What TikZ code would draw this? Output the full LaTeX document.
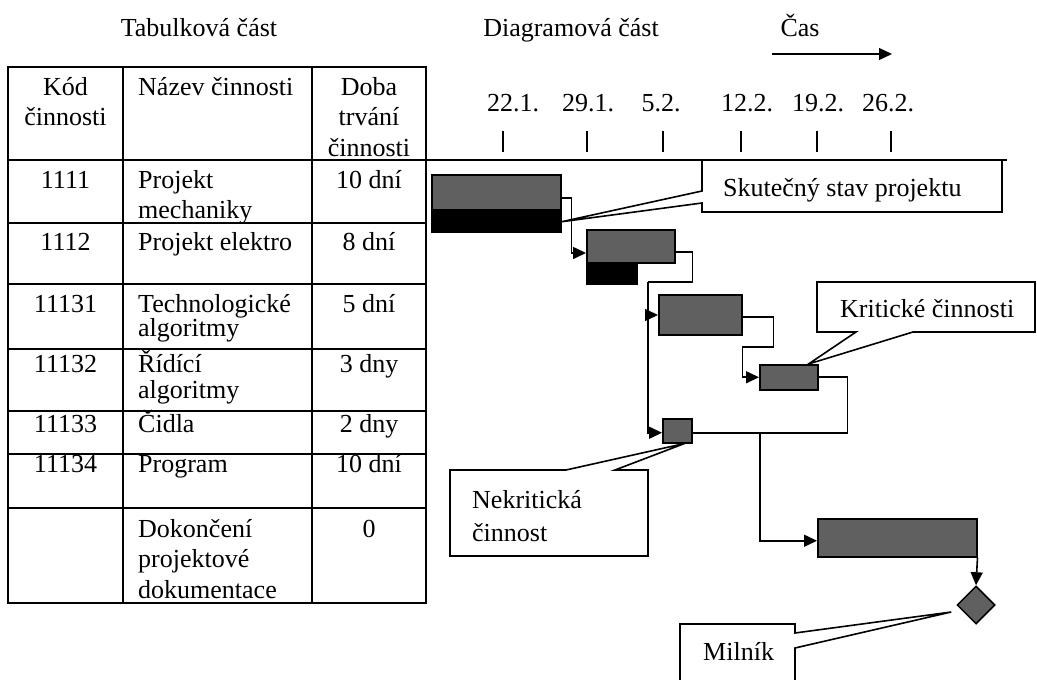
\documentclass[tikz,border=0pt]{standalone}
\usepackage{fontspec}
\setmainfont{Liberation Serif}
\usetikzlibrary{arrows.meta,shapes.geometric,calc}
\definecolor{barfill}{HTML}{606060}

% one table row: name prefix, baseline, code, activity, duration
\newcommand\tablerow[5]{%
  \node[cellc] (#1code) at (65.5,#2-24) {\rule{0pt}{24pt}#3};
  \node[celll] (#1name) at (138,#2-24) {\rule{0pt}{24pt}#4};
  \node[cellc] (#1dur)  at (369,#2-24) {\rule{0pt}{24pt}#5};
}

\begin{document}
\begin{tikzpicture}[x=1pt,y=-1pt,
  every node/.style={font=\fontsize{26}{30.5}\selectfont, inner sep=0pt},
  cellc/.style={anchor=north, align=center},
  celll/.style={anchor=north west, align=left},
  grid/.style={line width=2pt},
  tick/.style={line width=1.6pt},
  conn/.style={line width=1.6pt},
  tip/.style={-{Triangle[length=13pt,width=12pt]}},
  bar/.style={rectangle, draw=black, fill=barfill, line width=1.5pt, anchor=north west},
  done/.style={rectangle, draw=black, fill=black, line width=1.5pt, anchor=north west},
  mile/.style={diamond, draw=black, fill=barfill, line width=1.5pt, minimum width=38pt, minimum height=38pt},
  call/.style={draw=black, line width=1.6pt, line join=miter}]

\useasboundingbox (0,0) rectangle (1037,680);
\clip (0,0) rectangle (1037,680);

% section headings
\node[anchor=base] (tabhdr) at (199,36) {Tabulková část};
\node[anchor=base] (diahdr) at (571,36) {Diagramová část};
\node[anchor=base] (timehdr) at (800,36) {Čas};
\coordinate (timeA) at (772,54);
\coordinate (timeB) at (892,54);
\draw[conn, line width=1.3pt, tip] (timeA) -- (timeB);

% table grid
\draw[grid] (8,67) rectangle (426,603);
\foreach \yy in {160,223,284,349,411,454,508} \draw[grid] (8,\yy) -- (426,\yy);
\foreach \xx in {123,312} \draw[grid] (\xx,67) -- (\xx,603);

% table contents
\tablerow{h}{95}{Kód\\činnosti}{Název činnosti}{Doba\\trvání\\činnosti}
\tablerow{ra}{188}{1111}{Projekt\\mechaniky}{10 dní}
\tablerow{rb}{250}{1112}{Projekt elektro}{8 dní}
\tablerow{rc}{312}{11131}{Technologické\\[-6pt]algoritmy}{5 dní}
\tablerow{rd}{372}{11132}{Řídící\\[-4.5pt]algoritmy}{3 dny}
\tablerow{re}{432}{11133}{Čidla}{2 dny}
\tablerow{rf}{472}{11134}{Program}{10 dní}
\node[celll] (rgname) at (138,537-24) {\rule{0pt}{24pt}Dokončení\\projektové\\dokumentace};
\node[cellc] (rgdur) at (369,537-24) {\rule{0pt}{24pt}0};

% time axis with dates and ticks
\foreach \dt/\xl/\xt [count=\i] in {22.1./513/503, 29.1./588/587, 5.2./661/663, 12.2./747/741, 19.2./818/817, 26.2./888/891} {
  \node[anchor=base] (date\i) at (\xl,111) {\dt};
  \draw[tick] (\xt,131) -- (\xt,152);
}
\draw[grid] (426,160) -- (1007,160);

% activity bars
\node[bar, minimum width=129pt, minimum height=35pt] (b1) at (431,174) {};
\node[done, minimum width=129pt, minimum height=21pt] (b1d) at (b1.south west) {};
\node[bar, minimum width=88pt, minimum height=33pt] (b2) at (586,229) {};
\node[done, minimum width=50pt, minimum height=20pt] (b2d) at (b2.south west) {};
\node[bar, minimum width=83pt, minimum height=40pt] (b3) at (658,294) {};
\node[bar, minimum width=58pt, minimum height=25pt] (b4) at (759,364) {};
\node[bar, minimum width=29pt, minimum height=24pt] (b5) at (662,418) {};
\node[bar, minimum width=159pt, minimum height=38pt] (b6) at (817,518) {};
\node[mile] (ms) at (976,605) {};

% dependencies
\coordinate (j1) at (648,282);
\coordinate (j2) at (760,432);
\draw[conn, tip] ($(b1.north east)+(0,24)$) -- ++(10,0) |- ($(b2.north west)+(0,24)$);
\draw[conn] ($(b2.north east)+(0,23)$) -- ++(17,0) |- (j1);
\draw[conn, tip] (j1) |- ($(b3.north west)+(0,21)$);
\draw[conn, tip] (j1) |- ($(b5.west)+(0,2)$);
\draw[conn, tip] ($(b3.north east)+(0,23)$) -- ++(31,0) -- ++(0,30) -- ++(-31,0) |- (b4.west);
\draw[conn] (b4.east) -- ++(29,0) |- ($(b5.east)+(0,2)$);
\draw[conn, tip] (j2) |- ($(b6.west)+(0,3)$);
\draw[conn, tip] (b6.south east) -- (ms.north);

% callouts
\draw[call] (702,160) -- (1002,160) -- (1002,212) -- (702,212) -- (702,203)
  -- (b1d.east) -- (702,191) -- cycle;
\node[anchor=base west] (actual) at (723,196) {Skutečný stav projektu};

\draw[call] (817,282) -- (1035,282) -- (1035,332) -- (913,332)
  -- ($(b4.north east)+(-10,0)$) -- (856,332) -- (817,332) -- cycle;
\node[anchor=base west] (critical) at (840,317) {Kritické činnosti};

\draw[call] (450,470) -- (566,470) -- ($(b5.south east)+(-8,0)$) -- (615,470)
  -- (648,470) -- (648,556) -- (450,556) -- cycle;
\node[anchor=north west, align=left] (noncrit) at (472,508-24)
  {\rule{0pt}{24pt}Nekritická\\[3pt]činnost};

\draw[call] (680,700) -- (680,624) -- (795,624) -- (795,633)
  -- ($(ms.west)+(-5,7)$) -- (795,648) -- (795,700);
\node[anchor=base west] (milestone) at (703,660) {Milník};

\end{tikzpicture}
\end{document}
